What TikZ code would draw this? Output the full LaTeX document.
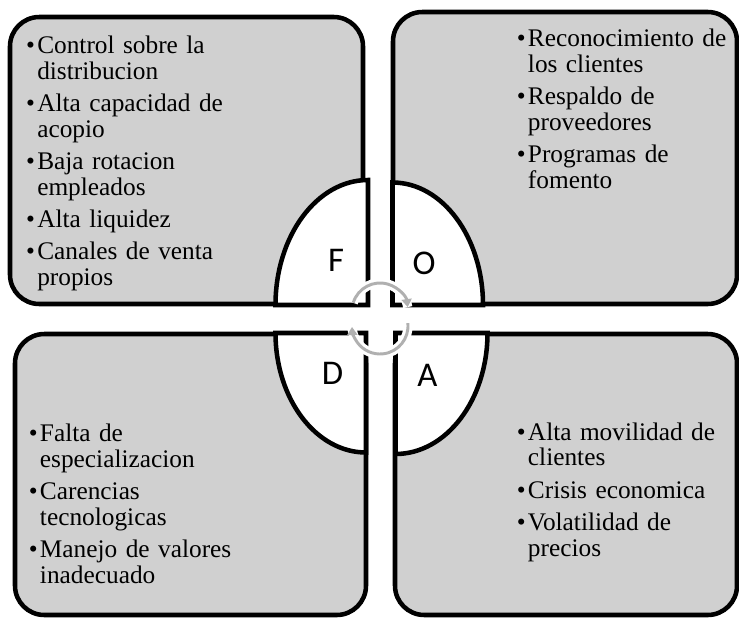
\documentclass[tikz,border=0pt]{standalone}
\usepackage{fontspec}
\setmainfont{Liberation Serif}
\newfontfamily\letterfont{Carlito}
\usetikzlibrary{arrows.meta}
\definecolor{boxgray}{HTML}{D0D0D0}
\definecolor{arcgray}{HTML}{B0B0B0}
\newcommand{\bul}{\makebox[8.4pt][l]{•}}
\newcommand{\ind}{\hspace*{8.4pt}}
\begin{document}
\begin{tikzpicture}[x=0.75pt,y=-0.75pt,
  quad/.style={draw=black, line width=3.4pt, fill=boxgray, rounded corners=22pt},
  wedge/.style={draw=black, line width=3.4pt, fill=white, line join=miter},
  items/.style={anchor=base west, inner sep=0pt, text width=200pt, align=left,
    font=\fontsize{19}{19.3}\selectfont},
  letter/.style={font=\letterfont\fontsize{26}{28}\selectfont, inner sep=0pt},
  cyc/.style={draw=arcgray, line width=2.2pt, -{Triangle[length=6pt,width=7.5pt]},
    preaction={draw=white, line width=7pt, arrows=-}}]
\useasboundingbox (0,0) rectangle (739,618);

% quadrant boxes
\draw[quad] (10,17) rectangle (363,304);
\draw[quad] (393,12) rectangle (737,304);
\draw[quad] (15,334) rectangle (366,615);
\draw[quad] (395,334) rectangle (737,615);

% central wedges
\draw[wedge] (368,305) -- (275.5,305) arc[start angle=180, end angle=270, x radius=92.5, y radius=125] -- cycle;
\draw[wedge] (392.5,305) -- (392.5,182.5) arc[start angle=270, end angle=360, x radius=90.5, y radius=122.5] -- cycle;
\draw[wedge] (366,333) -- (275.5,333) arc[start angle=180, end angle=90, x radius=90.5, y radius=119.5] -- cycle;
\draw[wedge] (395.5,333) -- (487.5,333) arc[start angle=0, end angle=90, x radius=92, y radius=121] -- cycle;

% circular arrows
\coordinate (ctop) at (380,311);
\coordinate (cbot) at (380,326);
\draw[cyc] ([shift={(197:28)}]ctop) arc[start angle=197, end angle=352, radius=28];
\draw[cyc] ([shift={(-6:28)}]cbot) arc[start angle=-6, end angle=178, radius=28];

% letters
\node[letter] (lF) at (336,260) {F};
\node[letter] (lO) at (424,263) {O};
\node[letter] (lD) at (332.5,373) {D};
\node[letter] (lA) at (427.5,375) {A};

% texts
\node[items] (tF) at (25.8,53.3) {\bul Control sobre la\\ \ind distribucion\\[4.9pt]
  \bul Alta capacidad de\\ \ind acopio\\[4.9pt]
  \bul Baja rotacion\\ \ind empleados\\[4.9pt]
  \bul Alta liquidez\\[4.9pt]
  \bul Canales de venta\\ \ind propios};
\node[items] (tO) at (516.5,46.7) {\bul Reconocimiento de\\ \ind los clientes\\[4.9pt]
  \bul Respaldo de\\ \ind proveedores\\[4.9pt]
  \bul Programas de\\ \ind fomento};
\node[items] (tD) at (28.5,441.7) {\bul Falta de\\ \ind especializacion\\[4.9pt]
  \bul Carencias\\ \ind tecnologicas\\[4.9pt]
  \bul Manejo de valores\\ \ind inadecuado};
\node[items] (tA) at (516.5,440) {\bul Alta movilidad de\\ \ind clientes\\[4.9pt]
  \bul Crisis economica\\[4.9pt]
  \bul Volatilidad de\\ \ind precios};
\end{tikzpicture}
\end{document}
